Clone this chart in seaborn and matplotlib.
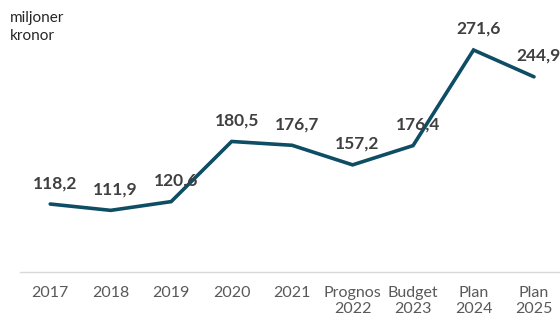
import numpy as np
import pandas as pd
import seaborn as sns
import matplotlib.pyplot as plt

# data
kategorier = ["2017", "2018", "2019", "2020", "2021",
              "Prognos\n2022", "Budget\n2023", "Plan\n2024", "Plan\n2025"]
belopp = [118.2, 111.9, 120.6, 180.5, 176.7, 157.2, 176.4, 271.6, 244.9]
etiketter = ["118,2", "111,9", "120,6", "180,5", "176,7",
             "157,2", "176,4", "271,6", "244,9"]

df = pd.DataFrame({"x": np.arange(len(kategorier)), "belopp": belopp})

sns.set_style("white")
plt.rcParams['font.family'] = ['Lato', 'DejaVu Sans']

fig = plt.figure(figsize=(5.6, 3.18), dpi=100)
ax = fig.add_axes([20 / 560, 46 / 318, 1 - 20 / 560, 1 - 46 / 318])

farg = "#0e4d64"
sns.lineplot(data=df, x="x", y="belopp", ax=ax, color=farg, linewidth=2.6,
             solid_joinstyle="miter")

# dataetiketter
for xi, yi, txt in zip(df["x"], df["belopp"], etiketter):
    ax.annotate(txt, (xi, yi), textcoords="offset pixels", xytext=(5, 21),
                ha="center", va="center", fontsize=12.5, fontweight="bold",
                color="#404040")

ax.set_xlim(-0.5, 8.43)
ax.set_ylim(50.5, 321.4)
ax.set_xticks(df["x"])
ax.set_xticklabels(kategorier, fontsize=11.5, color="#595959", linespacing=1.2)
ax.set_yticks([])
ax.set_xlabel("")
ax.set_ylabel("")
ax.tick_params(axis="x", length=0, pad=10)

for s in ["top", "right", "left"]:
    ax.spines[s].set_visible(False)
ax.spines["bottom"].set_color("#d9d9d9")
ax.spines["bottom"].set_linewidth(1)

fig.text(10 / 560, 1 - 11 / 318, "miljoner\nkronor", ha="left", va="top",
         fontsize=11, color="#262626", linespacing=1.4)

fig.savefig("out.png", dpi=100)
